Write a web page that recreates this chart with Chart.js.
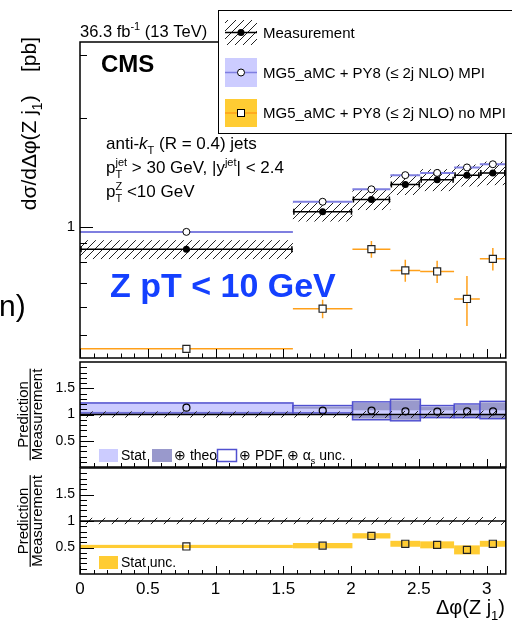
<!DOCTYPE html>
<html>
<head>
<meta charset="utf-8">
<script src="https://cdn.jsdelivr.net/npm/chart.js@4.4.1/dist/chart.umd.min.js"></script>
<style>
  html, body { margin: 0; padding: 0; background: #fff; }
  #page { position: relative; width: 512px; height: 625px; overflow: hidden; background: #fff; }
  #page canvas { position: absolute; left: 0; }
</style>
</head>
<body>
<div id="page">
  <canvas id="mainPad" width="512" height="372" style="top:0px"></canvas>
  <canvas id="ratioMpi" width="512" height="133" style="top:348px"></canvas>
  <canvas id="ratioNoMpi" width="512" height="171" style="top:454px"></canvas>
</div>
<script>
// Delta phi(Z, j1) bins, Z pT < 10 GeV
const binEdges = [0, 1.5708, 2.01, 2.29, 2.51, 2.76, 2.95, 3.1416];
const binCenters = [0.785, 1.79, 2.15, 2.40, 2.635, 2.855, 3.046];

// cross sections [pb]
const measured = [0.866, 1.10, 1.19, 1.31, 1.35, 1.39, 1.41];
const measRelUnc = [0.06, 0.06, 0.065, 0.065, 0.07, 0.07, 0.075];
const mpiPred = [0.968, 1.173, 1.27, 1.39, 1.41, 1.46, 1.49];
const noMpiPred = [0.459, 0.593, 0.867, 0.757, 0.752, 0.631, 0.815];
const noMpiErr = [0.006, 0.035, 0.046, 0.053, 0.053, 0.10, 0.058];

// prediction / measurement, MPI
const mpiRatio = [1.13, 1.075, 1.075, 1.06, 1.055, 1.06, 1.06];
const mpiStatLo = [1.05, 1.04, 0.99, 0.98, 0.98, 0.99, 0.99];
const mpiStatHi = [1.21, 1.11, 1.08, 1.08, 1.08, 1.08, 1.08];
const mpiTheoLo = [1.05, 1.04, 0.92, 0.90, 0.95, 0.95, 0.93];
const mpiTheoHi = [1.21, 1.15, 1.22, 1.27, 1.15, 1.18, 1.23];
const mpiPdfLo = [1.03, 1.03, 0.90, 0.88, 0.94, 0.94, 0.92];
const mpiPdfHi = [1.22, 1.17, 1.24, 1.29, 1.17, 1.20, 1.25];

// prediction / measurement, no MPI
const noMpiRatio = [0.52, 0.535, 0.72, 0.57, 0.55, 0.455, 0.57];
const noMpiRatioErr = [0.03, 0.05, 0.05, 0.056, 0.066, 0.085, 0.056];

// axis ticks
const xTickLabels = [0, 0.5, 1, 1.5, 2, 2.5, 3];
const mainYTickLabels = [1];
const mainYMinor = [0.5, 0.6, 0.7, 0.8, 0.9, 2, 3];
const ratioYTickLabels = [0.5, 1, 1.5];

const FONT = '"Liberation Sans", Arial, Helvetica, sans-serif';
const MPI_LINE = '#7f7fe0';
const ORANGE = '#ffa01a';
const YELLOW = '#ffcc33';
const STAT_BLUE = '#ccccff';
const THEO_BLUE = '#9999cc';
const PDF_BLUE = '#5050d0';

function hatch(ctx, step) {
    var c = document.createElement('canvas');
    c.width = step; c.height = step;
    var g = c.getContext('2d');
    g.strokeStyle = '#222';
    g.lineWidth = 1;
    g.beginPath();
    g.moveTo(-1, step + 1); g.lineTo(step + 1, -1);
    g.moveTo(-1, 1); g.lineTo(1, -1);
    g.moveTo(step - 1, step + 1); g.lineTo(step + 1, step - 1);
    g.stroke();
    return ctx.createPattern(c, 'repeat');
}

// text with sub/superscripts, returns width
function rich(ctx, x, y, parts, size, draw) {
    var cx = x;
    parts.forEach(function(p) {
        if (p.sub !== undefined || p.sup !== undefined) {
            var s = Math.round(size * 0.65);
            ctx.font = s + 'px ' + FONT;
            var w = 0;
            if (p.sub) {
                if (draw) ctx.fillText(p.sub, cx, y + size * 0.3);
                w = Math.max(w, ctx.measureText(p.sub).width);
            }
            if (p.sup) {
                if (draw) ctx.fillText(p.sup, cx, y - size * 0.42);
                w = Math.max(w, ctx.measureText(p.sup).width);
            }
            cx += w;
        } else {
            ctx.font = (p.style ? p.style + ' ' : '') + size + 'px ' + FONT;
            if (draw) ctx.fillText(p.t, cx, y);
            cx += ctx.measureText(p.t).width;
        }
    });
    return cx - x;
}

function binSegments(values) {
    var pts = [];
    values.forEach(function(v, i) {
        pts.push({x: binEdges[i], y: v}, {x: binEdges[i + 1], y: v}, {x: binEdges[i + 1], y: null});
    });
    return pts;
}

function points(values) {
    return values.map(function(v, i) { return {x: binCenters[i], y: v}; });
}

function clipArea(ctx, a) {
    ctx.beginPath();
    ctx.rect(a.left, a.top, a.right - a.left, a.bottom - a.top);
    ctx.clip();
}

// ROOT style frame with inward ticks on bottom and left
function drawFrame(chart, yTicks, xMajorLen, xMinorLen) {
    var ctx = chart.ctx, a = chart.chartArea;
    var xs = chart.scales.x, ys = chart.scales.y;
    ctx.save();
    ctx.strokeStyle = '#000';
    ctx.lineWidth = 1;
    ctx.beginPath();
    for (var k = 0; k <= 31; k++) {
        var px = Math.round(xs.getPixelForValue(k / 10)) + 0.5;
        var len = (k % 5 === 0) ? xMajorLen : xMinorLen;
        ctx.moveTo(px, a.bottom);
        ctx.lineTo(px, a.bottom - len);
    }
    yTicks.forEach(function(t) {
        var py = Math.round(ys.getPixelForValue(t.v)) + 0.5;
        ctx.moveTo(a.left, py);
        ctx.lineTo(a.left + t.len, py);
    });
    ctx.stroke();
    ctx.lineWidth = 1.5;
    ctx.strokeRect(a.left, a.top, a.right - a.left, a.bottom - a.top);
    ctx.restore();
}

function ratioYTicks() {
    var t = [];
    for (var k = 1; k < 20; k++) {
        t.push({v: k / 10, len: (k % 5 === 0) ? 14 : 7});
    }
    return t;
}

function ratioTitle(ctx, cy) {
    ctx.save();
    ctx.fillStyle = '#000';
    ctx.font = '15px ' + FONT;
    ctx.textAlign = 'center';
    ctx.translate(0, cy);
    ctx.rotate(-Math.PI / 2);
    ctx.fillText('Prediction', 0, 28);
    ctx.fillText('Measurement', 0, 42);
    var w = ctx.measureText('Measurement').width;
    ctx.fillRect(-w / 2, 29.6, w, 1.2);
    ctx.restore();
}

function measHatchAroundOne(chart, pat) {
    var ctx = chart.ctx, xs = chart.scales.x, ys = chart.scales.y;
    ctx.fillStyle = pat;
    measRelUnc.forEach(function(u, i) {
        var x0 = xs.getPixelForValue(binEdges[i]), x1 = xs.getPixelForValue(binEdges[i + 1]);
        var y0 = ys.getPixelForValue(1 + u), y1 = ys.getPixelForValue(1 - u);
        ctx.fillRect(x0, y0, x1 - x0, y1 - y0);
    });
}

function openCircle(ctx, x, y, r) {
    ctx.beginPath();
    ctx.arc(x, y, r, 0, Math.PI * 2);
    ctx.fillStyle = '#fff';
    ctx.fill();
    ctx.strokeStyle = '#000';
    ctx.lineWidth = 1;
    ctx.stroke();
}

var commonOptions = function(padding) {
    return {
        responsive: false,
        animation: false,
        devicePixelRatio: 1,
        layout: { padding: padding },
        plugins: { legend: { display: false }, tooltip: { enabled: false } }
    };
};

function yAxis(extra) {
    var base = {
        afterFit: function(s) { s.width = 80; s.paddingTop = 0; s.paddingBottom = 0; },
        grid: { display: false, drawTicks: false },
        border: { display: false }
    };
    return Object.assign(base, extra);
}

// ---------- main pad ----------
var mainPlugin = {
    id: 'mainPad',
    beforeDatasetsDraw: function(chart) {
        var ctx = chart.ctx, a = chart.chartArea, xs = chart.scales.x, ys = chart.scales.y;
        var pat = hatch(ctx, 8);
        ctx.save();
        clipArea(ctx, a);
        ctx.fillStyle = pat;
        measured.forEach(function(v, i) {
            var x0 = xs.getPixelForValue(binEdges[i]), x1 = xs.getPixelForValue(binEdges[i + 1]);
            var y0 = ys.getPixelForValue(v * (1 + measRelUnc[i])), y1 = ys.getPixelForValue(v * (1 - measRelUnc[i]));
            ctx.fillRect(x0, y0, x1 - x0, y1 - y0);
        });
        // end caps of the measurement bin bars
        ctx.strokeStyle = '#000';
        ctx.lineWidth = 1.5;
        ctx.beginPath();
        measured.forEach(function(v, i) {
            var py = ys.getPixelForValue(v);
            var x0 = xs.getPixelForValue(binEdges[i]) + 1, x1 = xs.getPixelForValue(binEdges[i + 1]) - 1;
            ctx.moveTo(x0, py - 3); ctx.lineTo(x0, py + 3);
            ctx.moveTo(x1, py - 3); ctx.lineTo(x1, py + 3);
        });
        ctx.stroke();
        // no-MPI vertical errors
        ctx.strokeStyle = ORANGE;
        ctx.lineWidth = 1.5;
        ctx.beginPath();
        noMpiPred.forEach(function(v, i) {
            var px = xs.getPixelForValue(binCenters[i]);
            ctx.moveTo(px, ys.getPixelForValue(v + noMpiErr[i]));
            ctx.lineTo(px, ys.getPixelForValue(v - noMpiErr[i]));
        });
        ctx.stroke();
        ctx.restore();
    },
    afterDatasetsDraw: function(chart) {
        var yt = mainYTickLabels.map(function(v) { return {v: v, len: 13}; })
            .concat(mainYMinor.map(function(v) { return {v: v, len: 7}; }));
        drawFrame(chart, yt, 9, 4.5);
    },
    afterDraw: function(chart) {
        var ctx = chart.ctx;
        ctx.save();
        ctx.textAlign = 'left';
        ctx.textBaseline = 'alphabetic';
        ctx.fillStyle = '#000';

        rich(ctx, 80, 37, [{t: '36.3 fb'}, {sup: '-1'}, {t: ' (13 TeV)'}], 16.5, true);

        ctx.font = 'bold 24px ' + FONT;
        ctx.fillText('CMS', 101, 72);

        rich(ctx, 106, 149, [{t: 'anti-'}, {t: 'k', style: 'italic'}, {sub: 'T'}, {t: ' (R = 0.4) jets'}], 17, true);
        rich(ctx, 106, 173, [{t: 'p'}, {sub: 'T', sup: 'jet'}, {t: ' > 30 GeV, |y'}, {sup: 'jet'}, {t: '| < 2.4'}], 17, true);
        rich(ctx, 106, 197, [{t: 'p'}, {sub: 'T', sup: 'Z'}, {t: ' <10 GeV'}], 17, true);

        ctx.fillStyle = '#1440ff';
        ctx.font = 'bold 34px ' + FONT;
        ctx.fillText('Z pT < 10 GeV', 110, 297);

        ctx.fillStyle = '#000';
        ctx.font = '30px ' + FONT;
        ctx.fillText('n)', -1, 316);

        // y title
        var yParts = [{t: 'd\u03c3/d\u0394\u03c6(Z j'}, {sub: '1'}, {t: ')    [pb]'}];
        var w = rich(ctx, 0, 0, yParts, 21, false);
        ctx.save();
        ctx.translate(36, 37 + w);
        ctx.rotate(-Math.PI / 2);
        rich(ctx, 0, 0, yParts, 21, true);
        ctx.restore();

        // legend
        ctx.fillStyle = '#fff';
        ctx.fillRect(218, 10, 300, 123);
        ctx.strokeStyle = '#000';
        ctx.lineWidth = 1;
        ctx.strokeRect(218.5, 10.5, 300, 123);

        ctx.fillStyle = hatch(ctx, 8);
        ctx.fillRect(225, 20, 32, 25);
        ctx.strokeStyle = '#000';
        ctx.lineWidth = 1.5;
        ctx.beginPath(); ctx.moveTo(225, 32.5); ctx.lineTo(257, 32.5); ctx.stroke();
        ctx.fillStyle = '#000';
        ctx.beginPath(); ctx.arc(241, 32.5, 3.5, 0, Math.PI * 2); ctx.fill();

        ctx.fillStyle = STAT_BLUE;
        ctx.fillRect(225, 58, 32, 29);
        ctx.strokeStyle = MPI_LINE;
        ctx.lineWidth = 1.5;
        ctx.beginPath(); ctx.moveTo(225, 72.5); ctx.lineTo(257, 72.5); ctx.stroke();
        openCircle(ctx, 241, 72.5, 3.5);

        ctx.fillStyle = YELLOW;
        ctx.fillRect(225, 99, 32, 28);
        ctx.strokeStyle = ORANGE;
        ctx.lineWidth = 1.5;
        ctx.beginPath(); ctx.moveTo(225, 113); ctx.lineTo(257, 113); ctx.stroke();
        ctx.fillStyle = '#fff';
        ctx.fillRect(237.5, 109.5, 7, 7);
        ctx.strokeStyle = '#000';
        ctx.lineWidth = 1;
        ctx.strokeRect(237.5, 109.5, 7, 7);

        ctx.fillStyle = '#000';
        ctx.font = '15px ' + FONT;
        ctx.fillText('Measurement', 263, 38);
        ctx.fillText('MG5_aMC + PY8 (\u2264 2j NLO) MPI', 263, 77.5);
        ctx.fillText('MG5_aMC + PY8 (\u2264 2j NLO) no MPI', 263, 118);
        ctx.restore();
    }
};

new Chart(document.getElementById('mainPad'), {
    type: 'scatter',
    data: {
        datasets: [
            { data: points(measured), pointStyle: 'circle', pointRadius: 3.5, backgroundColor: '#000', borderColor: '#000', borderWidth: 0 },
            { data: points(mpiPred), pointStyle: 'circle', pointRadius: 3.5, backgroundColor: '#fff', borderColor: '#000', borderWidth: 1 },
            { data: points(noMpiPred), pointStyle: 'rect', pointRadius: 5, backgroundColor: '#fff', borderColor: '#222', borderWidth: 1.2 },
            { data: binSegments(measured), showLine: true, spanGaps: false, pointRadius: 0, borderColor: '#000', borderWidth: 1.5 },
            { data: binSegments(mpiPred), showLine: true, spanGaps: false, pointRadius: 0, borderColor: MPI_LINE, borderWidth: 2 },
            { data: binSegments(noMpiPred), showLine: true, spanGaps: false, pointRadius: 0, borderColor: ORANGE, borderWidth: 1.5 }
        ]
    },
    options: Object.assign(commonOptions({ top: 42, right: 6, bottom: 14, left: 0 }), {
        scales: {
            x: { type: 'linear', min: 0, max: Math.PI, display: false },
            y: yAxis({
                type: 'logarithmic', min: 0.433, max: 3.25,
                afterBuildTicks: function(s) { s.ticks = mainYTickLabels.map(function(v) { return {value: v}; }); },
                ticks: { color: '#000', padding: 5, autoSkip: false, font: { family: FONT, size: 15 }, callback: function(v) { return String(v); } }
            })
        }
    }),
    plugins: [mainPlugin]
});

// ---------- ratio pad: MPI ----------
var ratioMpiPlugin = {
    id: 'ratioMpi',
    beforeDatasetsDraw: function(chart) {
        var ctx = chart.ctx, a = chart.chartArea, xs = chart.scales.x, ys = chart.scales.y;
        ctx.save();
        clipArea(ctx, a);
        function box(lo, hi, i) {
            var x0 = xs.getPixelForValue(binEdges[i]), x1 = xs.getPixelForValue(binEdges[i + 1]);
            var y0 = ys.getPixelForValue(hi[i]), y1 = ys.getPixelForValue(lo[i]);
            return [x0, y0, x1 - x0, y1 - y0];
        }
        mpiRatio.forEach(function(v, i) {
            var b = box(mpiTheoLo, mpiTheoHi, i);
            ctx.fillStyle = THEO_BLUE;
            ctx.fillRect(b[0], b[1], b[2], b[3]);
            b = box(mpiStatLo, mpiStatHi, i);
            ctx.fillStyle = STAT_BLUE;
            ctx.fillRect(b[0], b[1], b[2], b[3]);
            b = box(mpiPdfLo, mpiPdfHi, i);
            ctx.strokeStyle = PDF_BLUE;
            ctx.lineWidth = 1.5;
            ctx.strokeRect(b[0], b[1], b[2], b[3]);
        });
        measHatchAroundOne(chart, hatch(ctx, 13));
        ctx.restore();
    },
    afterDatasetsDraw: function(chart) {
        drawFrame(chart, ratioYTicks(), 8, 4);
    },
    afterDraw: function(chart) {
        var ctx = chart.ctx;
        ctx.save();
        ctx.textAlign = 'left';
        ctx.textBaseline = 'alphabetic';
        ratioTitle(ctx, 66.5);
        ctx.fillStyle = STAT_BLUE;
        ctx.fillRect(99, 101, 19, 13);
        ctx.fillStyle = THEO_BLUE;
        ctx.fillRect(152, 101, 20, 13);
        ctx.fillStyle = '#fff';
        ctx.fillRect(217, 101, 19, 13);
        ctx.strokeStyle = PDF_BLUE;
        ctx.lineWidth = 1.5;
        ctx.strokeRect(217.5, 101.5, 19, 12);
        ctx.fillStyle = '#000';
        ctx.font = '14px ' + FONT;
        ctx.fillText('Stat', 121, 112);
        ctx.fillText('\u2295 theo', 174, 112);
        rich(ctx, 239, 112, [{t: '\u2295 PDF \u2295 \u03b1'}, {sub: 's'}, {t: ' unc.'}], 14, true);
        ctx.restore();
    }
};

new Chart(document.getElementById('ratioMpi'), {
    type: 'scatter',
    data: {
        datasets: [
            { data: points(mpiRatio), pointStyle: 'circle', pointRadius: 3.5, backgroundColor: 'rgba(255,255,255,0)', borderColor: '#000', borderWidth: 1.2 },
            { data: [{x: 0, y: 1}, {x: Math.PI, y: 1}], showLine: true, pointRadius: 0, borderColor: '#000', borderWidth: 1.5 }
        ]
    },
    options: Object.assign(commonOptions({ top: 14, right: 6, bottom: 14, left: 0 }), {
        scales: {
            x: { type: 'linear', min: 0, max: Math.PI, display: false },
            y: yAxis({
                type: 'linear', min: 0, max: 2,
                afterBuildTicks: function(s) { s.ticks = ratioYTickLabels.map(function(v) { return {value: v}; }); },
                ticks: { color: '#000', padding: 5, autoSkip: false, font: { family: FONT, size: 14 }, callback: function(v) { return String(v); } }
            })
        }
    }),
    plugins: [ratioMpiPlugin]
});

// ---------- ratio pad: no MPI ----------
var ratioNoMpiPlugin = {
    id: 'ratioNoMpi',
    beforeDatasetsDraw: function(chart) {
        var ctx = chart.ctx, a = chart.chartArea, xs = chart.scales.x, ys = chart.scales.y;
        ctx.save();
        clipArea(ctx, a);
        ctx.fillStyle = YELLOW;
        noMpiRatio.forEach(function(v, i) {
            var x0 = xs.getPixelForValue(binEdges[i]), x1 = xs.getPixelForValue(binEdges[i + 1]);
            var y0 = ys.getPixelForValue(v + noMpiRatioErr[i]), y1 = ys.getPixelForValue(v - noMpiRatioErr[i]);
            ctx.fillRect(x0, y0, x1 - x0, y1 - y0);
        });
        measHatchAroundOne(chart, hatch(ctx, 13));
        ctx.restore();
    },
    afterDatasetsDraw: function(chart) {
        drawFrame(chart, ratioYTicks(), 8, 4);
    },
    afterDraw: function(chart) {
        var ctx = chart.ctx;
        ctx.save();
        ctx.textAlign = 'left';
        ctx.textBaseline = 'alphabetic';
        ratioTitle(ctx, 67);
        ctx.fillStyle = YELLOW;
        ctx.fillRect(99, 102, 19, 13);
        ctx.fillStyle = '#000';
        ctx.font = '14px ' + FONT;
        ctx.fillText('Stat unc.', 121, 113);
        // x title
        var xParts = [{t: '\u0394\u03c6(Z j'}, {sub: '1'}, {t: ')'}];
        var w = rich(ctx, 0, 0, xParts, 20, false);
        rich(ctx, 505 - w, 160, xParts, 20, true);
        ctx.restore();
    }
};

new Chart(document.getElementById('ratioNoMpi'), {
    type: 'scatter',
    data: {
        datasets: [
            { data: points(noMpiRatio), pointStyle: 'rect', pointRadius: 5, backgroundColor: 'rgba(255,255,255,0)', borderColor: '#222', borderWidth: 1.2 },
            { data: [{x: 0, y: 1}, {x: Math.PI, y: 1}], showLine: true, pointRadius: 0, borderColor: '#000', borderWidth: 1.5 }
        ]
    },
    options: Object.assign(commonOptions({ top: 14, right: 6, bottom: 0, left: 0 }), {
        scales: {
            x: {
                type: 'linear', min: 0, max: Math.PI,
                afterFit: function(s) { s.height = 51; s.paddingLeft = 0; s.paddingRight = 0; },
                afterBuildTicks: function(s) { s.ticks = xTickLabels.map(function(v) { return {value: v}; }); },
                grid: { display: false, drawTicks: false },
                border: { display: false },
                ticks: { color: '#000', padding: 5, autoSkip: false, maxRotation: 0, font: { family: FONT, size: 17 }, callback: function(v) { return String(v); } }
            },
            y: yAxis({
                type: 'linear', min: 0, max: 2,
                afterBuildTicks: function(s) { s.ticks = ratioYTickLabels.map(function(v) { return {value: v}; }); },
                ticks: { color: '#000', padding: 5, autoSkip: false, font: { family: FONT, size: 14 }, callback: function(v) { return String(v); } }
            })
        }
    }),
    plugins: [ratioNoMpiPlugin]
});
</script>
</body>
</html>
